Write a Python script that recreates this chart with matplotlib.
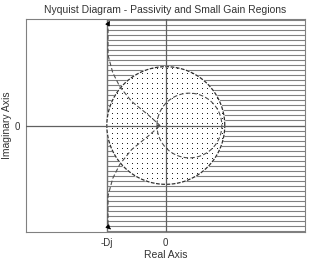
import numpy as np
import matplotlib.pyplot as plt

plt.rcParams['font.family'] = ['Liberation Sans', 'DejaVu Sans']

# region limits (data units, D = 1)
D = 1.0
xlim = (-2.37, 2.36)
ylim = (-1.81, 1.81)
hatch_step = 0.085
dot_step = 0.085

# Nyquist curve, upper branch (x, y)
upper_x = [-0.98, -0.98, -0.98, -0.90, -0.78, -0.58, -0.31, -0.14, -0.10]
upper_y = [1.76, 1.40, 1.20, 0.90, 0.66, 0.41, 0.19, 0.04, 0.0]
# inner loop
loop_cx = 0.40
loop_r = 0.55

fig = plt.figure(figsize=(3.11, 2.70), dpi=100)
ax = fig.add_axes([26/311, 1-232/270, (305-26)/311, (232-19)/270])

# passivity region: horizontal hatch lines right of -D
ys = np.arange(0, ylim[1], hatch_step)
ys = np.concatenate([-ys[1:][::-1], ys])
ax.hlines(ys, -D, xlim[1], color='#808080', lw=0.8, zorder=1)
ax.axvline(-D, color='#707070', lw=1.0, zorder=2)

# small gain region: circle of radius D, white with dots
t = np.linspace(0, 2*np.pi, 400)
ax.fill(D*np.cos(t), D*np.sin(t), color='white', zorder=3)
g = np.arange(-D, D + 1e-9, dot_step)
gx, gy = np.meshgrid(g, g)
m = gx**2 + gy**2 < D**2 * 0.97
ax.plot(gx[m], gy[m], ',', color='#202020', zorder=4)
ax.plot(D*np.cos(t), D*np.sin(t), color='#303030', lw=0.9, ls=(0, (3, 1.2)), zorder=5)

# axes lines
ax.axhline(0, color='#606060', lw=0.9, zorder=6)
ax.axvline(0, color='#606060', lw=0.9, zorder=6)

# Nyquist curve
ux = np.array(upper_x)
uy = np.array(upper_y)
a = np.linspace(np.pi, -np.pi, 200)
lx = loop_cx + loop_r*np.cos(a)
ly = loop_r*np.sin(a)
cx = np.concatenate([ux, lx, ux[::-1]])
cy = np.concatenate([uy, ly, -uy[::-1]])
ax.plot(cx, cy, color='#505050', lw=0.8, ls=(0, (4, 2)), zorder=7)
ax.annotate('', xy=(-0.95, 1.78), xytext=(-0.99, 1.70),
            arrowprops=dict(arrowstyle='-|>', color='black', lw=0.6, mutation_scale=7), zorder=8)
ax.annotate('', xy=(-0.90, -1.80), xytext=(-0.98, -1.72),
            arrowprops=dict(arrowstyle='-|>', color='black', lw=0.6, mutation_scale=7), zorder=8)

ax.set_xlim(xlim)
ax.set_ylim(ylim)
ax.set_xticks([-D, 0])
ax.set_xticklabels(['-Dj', '0'])
ax.set_yticks([0])
ax.set_yticklabels(['0'])
ax.tick_params(length=0, labelsize=7, colors='#333333', pad=4)
for s in ax.spines.values():
    s.set_color('#808080')
ax.set_xlabel('Real Axis', fontsize=7.5, color='#333333', labelpad=2)
ax.set_ylabel('Imaginary Axis', fontsize=7.5, color='#333333', labelpad=2)
ax.set_title('Nyquist Diagram - Passivity and Small Gain Regions', fontsize=7.5, color='#333333', pad=4)

fig.savefig('out.png', dpi=100)
